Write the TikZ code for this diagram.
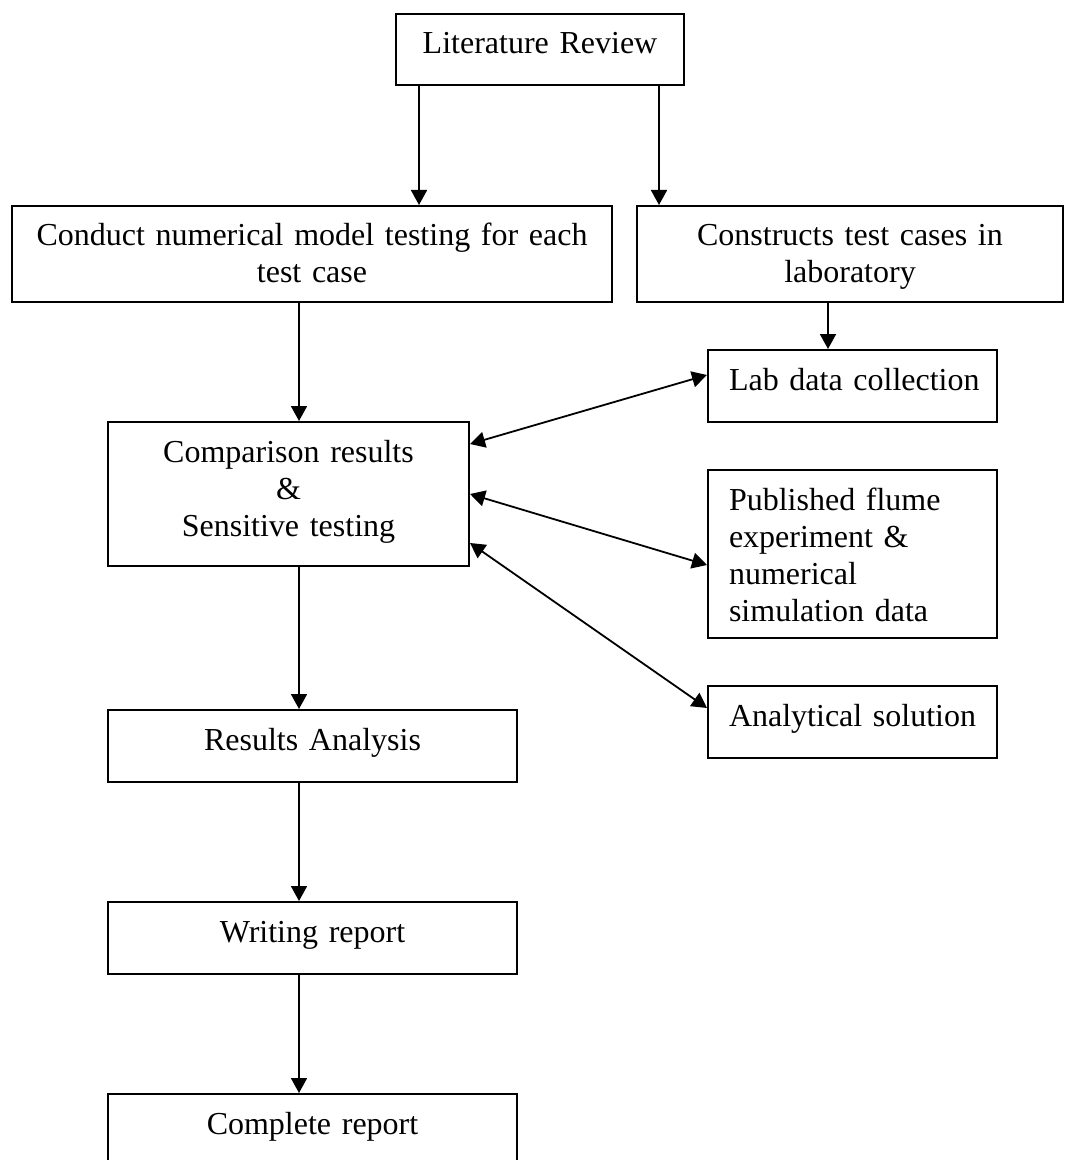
\documentclass[tikz,border=0pt]{standalone}
\usepackage{fontspec}
\setmainfont{Liberation Serif}
\usetikzlibrary{arrows.meta}
\begin{document}
\begin{tikzpicture}[x=0.5pt,y=-0.5pt,
  box/.style={draw, line width=1pt, anchor=north west, inner ysep=0pt,
    text height=20pt, font=\fontsize{16pt}{18.5pt}\selectfont},
  cbox/.style={box, align=center, inner xsep=0pt},
  lbox/.style={box, align=left, inner xsep=10.5pt, text width=123.5pt},
  arr/.style={line width=0.9pt, -{Triangle[length=7.5pt,width=8pt]}},
  darr/.style={line width=0.9pt, {Triangle[length=7.5pt,width=8pt]}-{Triangle[length=7.5pt,width=8pt]}}]
\useasboundingbox (0,0) rectangle (1064,1160);

\node[cbox, text width=144pt, text depth=15.5pt] (lit) at (395,13) {Literature Review};
\node[cbox, text width=300pt, text depth=28pt] (conduct) at (11,205) {\mbox{Conduct numerical model testing for each}\\ test case};
\node[cbox, text width=213pt, text depth=28pt] (construct) at (636,205) {Constructs test cases in\\ laboratory};
\node[lbox, text depth=16pt] (lab) at (707,349) {\mbox{Lab data collection}};
\node[cbox, text width=180.5pt, text depth=52pt] (comp) at (107,421) {Comparison results\\ \&\\ Sensitive testing};
\node[lbox, text depth=64pt] (pub) at (707,469) {\mbox{Published flume}\\ \mbox{experiment \&}\\ numerical\\ \mbox{simulation data}};
\node[lbox, text depth=16pt] (anal) at (707,685) {\mbox{Analytical solution}};
\node[cbox, text width=204.5pt, text depth=16pt] (res) at (107,709) {Results Analysis};
\node[cbox, text width=204.5pt, text depth=16pt] (wri) at (107,901) {Writing report};
\node[cbox, text width=204.5pt, text depth=16pt] (cpl) at (107,1093) {Complete report};

\draw[arr] (lit.south -| 419,0) -- (conduct.north -| 419,0);
\draw[arr] (lit.south -| 659,0) -- (construct.north -| 659,0);
\draw[arr] (conduct.south -| 299,0) -- (comp.north -| 299,0);
\draw[arr] (construct.south -| 828,0) -- (lab.north -| 828,0);
\draw[arr] (comp.south -| 299,0) -- (res.north -| 299,0);
\draw[arr] (res.south -| 299,0) -- (wri.north -| 299,0);
\draw[arr] (wri.south -| 299,0) -- (cpl.north -| 299,0);

\draw[darr] (comp.east |- 0,444) -- (lab.west |- 0,375);
\draw[darr] (comp.east |- 0,494) -- (pub.west |- 0,565);
\draw[darr] (comp.east |- 0,543) -- (anal.west |- 0,708);
\end{tikzpicture}
\end{document}
